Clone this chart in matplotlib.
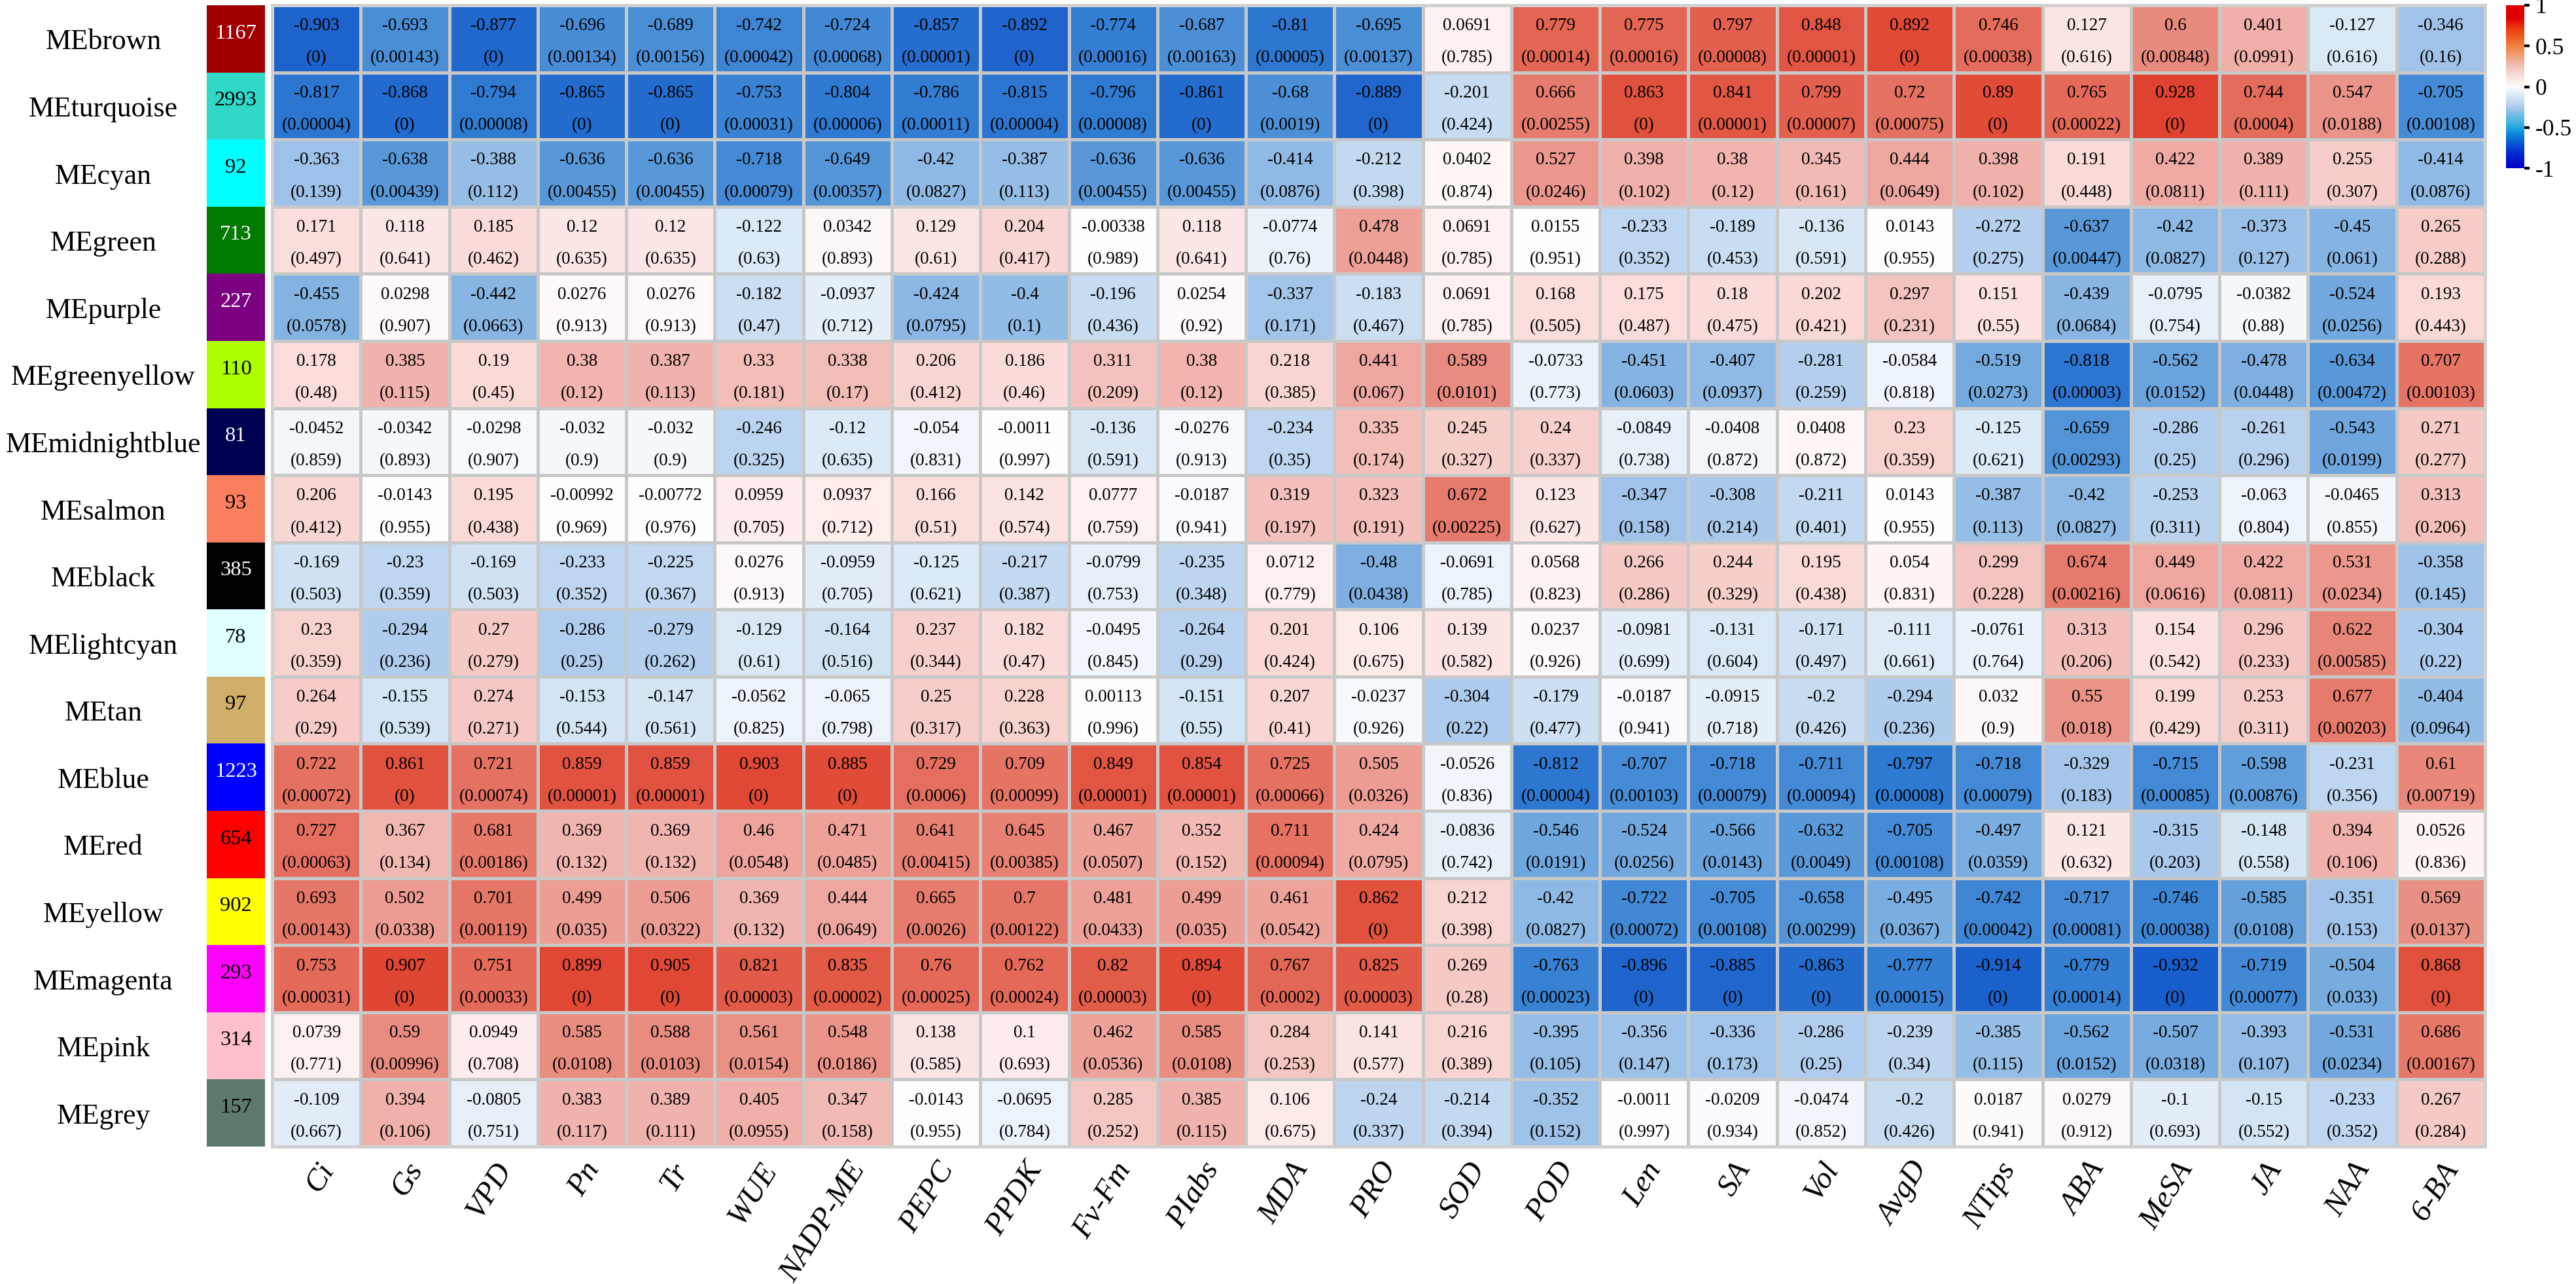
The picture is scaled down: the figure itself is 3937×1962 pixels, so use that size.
import numpy as np
import matplotlib
matplotlib.use('Agg')
import matplotlib.pyplot as plt
from matplotlib.colors import LinearSegmentedColormap, ListedColormap, Normalize
from matplotlib.cm import ScalarMappable

plt.rcParams['font.family'] = ['Liberation Serif', 'DejaVu Serif']

# module eigengenes, their colours and gene counts
modules = ['MEbrown', 'MEturquoise', 'MEcyan', 'MEgreen', 'MEpurple', 'MEgreenyellow',
           'MEmidnightblue', 'MEsalmon', 'MEblack', 'MElightcyan', 'MEtan', 'MEblue',
           'MEred', 'MEyellow', 'MEmagenta', 'MEpink', 'MEgrey']
module_colors = ['#A00000', '#30D8C8', '#00FFFF', '#007A00', '#7A0080', '#ADFF00',
                 '#000050', '#FA7F5F', '#000000', '#E0FFFF', '#CFAE6A', '#0000FF',
                 '#FF0000', '#FFFF00', '#FF00FF', '#FFC0CB', '#5E7A6C']
module_sizes = [1167, 2993, 92, 713, 227, 110, 81, 93, 385, 78, 97, 1223, 654, 902, 293, 314, 157]
size_text_colors = ['white', 'black', 'black', 'white', 'white', 'black', 'white', 'black',
                    'white', 'black', 'black', 'white', 'black', 'black', 'black', 'black', 'black']

traits = ['Ci', 'Gs', 'VPD', 'Pn', 'Tr', 'WUE', 'NADP-ME', 'PEPC', 'PPDK', 'Fv-Fm', 'PIabs',
          'MDA', 'PRO', 'SOD', 'POD', 'Len', 'SA', 'Vol', 'AvgD', 'NTips', 'ABA', 'MeSA',
          'JA', 'NAA', '6-BA']

# correlation (r) and p value per module
r_brown = [-0.903, -0.693, -0.877, -0.696, -0.689, -0.742, -0.724, -0.857, -0.892, -0.774, -0.687, -0.81, -0.695,
           0.0691, 0.779, 0.775, 0.797, 0.848, 0.892, 0.746, 0.127, 0.6, 0.401, -0.127, -0.346]
p_brown = [0, 0.00143, 0, 0.00134, 0.00156, 0.00042, 0.00068, 0.00001, 0, 0.00016, 0.00163, 0.00005, 0.00137,
           0.785, 0.00014, 0.00016, 0.00008, 0.00001, 0, 0.00038, 0.616, 0.00848, 0.0991, 0.616, 0.16]
r_turquoise = [-0.817, -0.868, -0.794, -0.865, -0.865, -0.753, -0.804, -0.786, -0.815, -0.796, -0.861, -0.68, -0.889,
               -0.201, 0.666, 0.863, 0.841, 0.799, 0.72, 0.89, 0.765, 0.928, 0.744, 0.547, -0.705]
p_turquoise = [0.00004, 0, 0.00008, 0, 0, 0.00031, 0.00006, 0.00011, 0.00004, 0.00008, 0, 0.0019, 0,
               0.424, 0.00255, 0, 0.00001, 0.00007, 0.00075, 0, 0.00022, 0, 0.0004, 0.0188, 0.00108]
r_cyan = [-0.363, -0.638, -0.388, -0.636, -0.636, -0.718, -0.649, -0.42, -0.387, -0.636, -0.636, -0.414, -0.212,
          0.0402, 0.527, 0.398, 0.38, 0.345, 0.444, 0.398, 0.191, 0.422, 0.389, 0.255, -0.414]
p_cyan = [0.139, 0.00439, 0.112, 0.00455, 0.00455, 0.00079, 0.00357, 0.0827, 0.113, 0.00455, 0.00455, 0.0876, 0.398,
          0.874, 0.0246, 0.102, 0.12, 0.161, 0.0649, 0.102, 0.448, 0.0811, 0.111, 0.307, 0.0876]
r_green = [0.171, 0.118, 0.185, 0.12, 0.12, -0.122, 0.0342, 0.129, 0.204, -0.00338, 0.118, -0.0774, 0.478,
           0.0691, 0.0155, -0.233, -0.189, -0.136, 0.0143, -0.272, -0.637, -0.42, -0.373, -0.45, 0.265]
p_green = [0.497, 0.641, 0.462, 0.635, 0.635, 0.63, 0.893, 0.61, 0.417, 0.989, 0.641, 0.76, 0.0448,
           0.785, 0.951, 0.352, 0.453, 0.591, 0.955, 0.275, 0.00447, 0.0827, 0.127, 0.061, 0.288]
r_purple = [-0.455, 0.0298, -0.442, 0.0276, 0.0276, -0.182, -0.0937, -0.424, -0.4, -0.196, 0.0254, -0.337, -0.183,
            0.0691, 0.168, 0.175, 0.18, 0.202, 0.297, 0.151, -0.439, -0.0795, -0.0382, -0.524, 0.193]
p_purple = [0.0578, 0.907, 0.0663, 0.913, 0.913, 0.47, 0.712, 0.0795, 0.1, 0.436, 0.92, 0.171, 0.467,
            0.785, 0.505, 0.487, 0.475, 0.421, 0.231, 0.55, 0.0684, 0.754, 0.88, 0.0256, 0.443]
r_greenyellow = [0.178, 0.385, 0.19, 0.38, 0.387, 0.33, 0.338, 0.206, 0.186, 0.311, 0.38, 0.218, 0.441,
                 0.589, -0.0733, -0.451, -0.407, -0.281, -0.0584, -0.519, -0.818, -0.562, -0.478, -0.634, 0.707]
p_greenyellow = [0.48, 0.115, 0.45, 0.12, 0.113, 0.181, 0.17, 0.412, 0.46, 0.209, 0.12, 0.385, 0.067,
                 0.0101, 0.773, 0.0603, 0.0937, 0.259, 0.818, 0.0273, 0.00003, 0.0152, 0.0448, 0.00472, 0.00103]
r_midnightblue = [-0.0452, -0.0342, -0.0298, -0.032, -0.032, -0.246, -0.12, -0.054, -0.0011, -0.136, -0.0276, -0.234, 0.335,
                  0.245, 0.24, -0.0849, -0.0408, 0.0408, 0.23, -0.125, -0.659, -0.286, -0.261, -0.543, 0.271]
p_midnightblue = [0.859, 0.893, 0.907, 0.9, 0.9, 0.325, 0.635, 0.831, 0.997, 0.591, 0.913, 0.35, 0.174,
                  0.327, 0.337, 0.738, 0.872, 0.872, 0.359, 0.621, 0.00293, 0.25, 0.296, 0.0199, 0.277]
r_salmon = [0.206, -0.0143, 0.195, -0.00992, -0.00772, 0.0959, 0.0937, 0.166, 0.142, 0.0777, -0.0187, 0.319, 0.323,
            0.672, 0.123, -0.347, -0.308, -0.211, 0.0143, -0.387, -0.42, -0.253, -0.063, -0.0465, 0.313]
p_salmon = [0.412, 0.955, 0.438, 0.969, 0.976, 0.705, 0.712, 0.51, 0.574, 0.759, 0.941, 0.197, 0.191,
            0.00225, 0.627, 0.158, 0.214, 0.401, 0.955, 0.113, 0.0827, 0.311, 0.804, 0.855, 0.206]
r_black = [-0.169, -0.23, -0.169, -0.233, -0.225, 0.0276, -0.0959, -0.125, -0.217, -0.0799, -0.235, 0.0712, -0.48,
           -0.0691, 0.0568, 0.266, 0.244, 0.195, 0.054, 0.299, 0.674, 0.449, 0.422, 0.531, -0.358]
p_black = [0.503, 0.359, 0.503, 0.352, 0.367, 0.913, 0.705, 0.621, 0.387, 0.753, 0.348, 0.779, 0.0438,
           0.785, 0.823, 0.286, 0.329, 0.438, 0.831, 0.228, 0.00216, 0.0616, 0.0811, 0.0234, 0.145]
r_lightcyan = [0.23, -0.294, 0.27, -0.286, -0.279, -0.129, -0.164, 0.237, 0.182, -0.0495, -0.264, 0.201, 0.106,
               0.139, 0.0237, -0.0981, -0.131, -0.171, -0.111, -0.0761, 0.313, 0.154, 0.296, 0.622, -0.304]
p_lightcyan = [0.359, 0.236, 0.279, 0.25, 0.262, 0.61, 0.516, 0.344, 0.47, 0.845, 0.29, 0.424, 0.675,
               0.582, 0.926, 0.699, 0.604, 0.497, 0.661, 0.764, 0.206, 0.542, 0.233, 0.00585, 0.22]
r_tan = [0.264, -0.155, 0.274, -0.153, -0.147, -0.0562, -0.065, 0.25, 0.228, 0.00113, -0.151, 0.207, -0.0237,
         -0.304, -0.179, -0.0187, -0.0915, -0.2, -0.294, 0.032, 0.55, 0.199, 0.253, 0.677, -0.404]
p_tan = [0.29, 0.539, 0.271, 0.544, 0.561, 0.825, 0.798, 0.317, 0.363, 0.996, 0.55, 0.41, 0.926,
         0.22, 0.477, 0.941, 0.718, 0.426, 0.236, 0.9, 0.018, 0.429, 0.311, 0.00203, 0.0964]
r_blue = [0.722, 0.861, 0.721, 0.859, 0.859, 0.903, 0.885, 0.729, 0.709, 0.849, 0.854, 0.725, 0.505,
          -0.0526, -0.812, -0.707, -0.718, -0.711, -0.797, -0.718, -0.329, -0.715, -0.598, -0.231, 0.61]
p_blue = [0.00072, 0, 0.00074, 0.00001, 0.00001, 0, 0, 0.0006, 0.00099, 0.00001, 0.00001, 0.00066, 0.0326,
          0.836, 0.00004, 0.00103, 0.00079, 0.00094, 0.00008, 0.00079, 0.183, 0.00085, 0.00876, 0.356, 0.00719]
r_red = [0.727, 0.367, 0.681, 0.369, 0.369, 0.46, 0.471, 0.641, 0.645, 0.467, 0.352, 0.711, 0.424,
         -0.0836, -0.546, -0.524, -0.566, -0.632, -0.705, -0.497, 0.121, -0.315, -0.148, 0.394, 0.0526]
p_red = [0.00063, 0.134, 0.00186, 0.132, 0.132, 0.0548, 0.0485, 0.00415, 0.00385, 0.0507, 0.152, 0.00094, 0.0795,
         0.742, 0.0191, 0.0256, 0.0143, 0.0049, 0.00108, 0.0359, 0.632, 0.203, 0.558, 0.106, 0.836]
r_yellow = [0.693, 0.502, 0.701, 0.499, 0.506, 0.369, 0.444, 0.665, 0.7, 0.481, 0.499, 0.461, 0.862,
            0.212, -0.42, -0.722, -0.705, -0.658, -0.495, -0.742, -0.717, -0.746, -0.585, -0.351, 0.569]
p_yellow = [0.00143, 0.0338, 0.00119, 0.035, 0.0322, 0.132, 0.0649, 0.0026, 0.00122, 0.0433, 0.035, 0.0542, 0,
            0.398, 0.0827, 0.00072, 0.00108, 0.00299, 0.0367, 0.00042, 0.00081, 0.00038, 0.0108, 0.153, 0.0137]
r_magenta = [0.753, 0.907, 0.751, 0.899, 0.905, 0.821, 0.835, 0.76, 0.762, 0.82, 0.894, 0.767, 0.825,
             0.269, -0.763, -0.896, -0.885, -0.863, -0.777, -0.914, -0.779, -0.932, -0.719, -0.504, 0.868]
p_magenta = [0.00031, 0, 0.00033, 0, 0, 0.00003, 0.00002, 0.00025, 0.00024, 0.00003, 0, 0.0002, 0.00003,
             0.28, 0.00023, 0, 0, 0, 0.00015, 0, 0.00014, 0, 0.00077, 0.033, 0]
r_pink = [0.0739, 0.59, 0.0949, 0.585, 0.588, 0.561, 0.548, 0.138, 0.1, 0.462, 0.585, 0.284, 0.141,
          0.216, -0.395, -0.356, -0.336, -0.286, -0.239, -0.385, -0.562, -0.507, -0.393, -0.531, 0.686]
p_pink = [0.771, 0.00996, 0.708, 0.0108, 0.0103, 0.0154, 0.0186, 0.585, 0.693, 0.0536, 0.0108, 0.253, 0.577,
          0.389, 0.105, 0.147, 0.173, 0.25, 0.34, 0.115, 0.0152, 0.0318, 0.107, 0.0234, 0.00167]
r_grey = [-0.109, 0.394, -0.0805, 0.383, 0.389, 0.405, 0.347, -0.0143, -0.0695, 0.285, 0.385, 0.106, -0.24,
          -0.214, -0.352, -0.0011, -0.0209, -0.0474, -0.2, 0.0187, 0.0279, -0.1, -0.15, -0.233, 0.267]
p_grey = [0.667, 0.106, 0.751, 0.117, 0.111, 0.0955, 0.158, 0.955, 0.784, 0.252, 0.115, 0.675, 0.337,
          0.394, 0.152, 0.997, 0.934, 0.852, 0.426, 0.941, 0.912, 0.693, 0.552, 0.352, 0.284]

corr = np.array([r_brown, r_turquoise, r_cyan, r_green, r_purple, r_greenyellow, r_midnightblue,
                 r_salmon, r_black, r_lightcyan, r_tan, r_blue, r_red, r_yellow, r_magenta, r_pink, r_grey])
pval = np.array([p_brown, p_turquoise, p_cyan, p_green, p_purple, p_greenyellow, p_midnightblue,
                 p_salmon, p_black, p_lightcyan, p_tan, p_blue, p_red, p_yellow, p_magenta, p_pink, p_grey])

# colour map used for the cells (softer) and for the colour bar
cell_cmap = LinearSegmentedColormap.from_list('cells', [
    (0.0, '#0A50C8'), (0.05, '#1E64CC'), (0.1, '#2F7AD2'), (0.175, '#5596D8'),
    (0.275, '#86B4E2'), (0.35, '#AECBEC'), (0.425, '#D4E4F4'), (0.5, '#FFFFFF'),
    (0.575, '#FBE2E0'), (0.65, '#F4C4C0'), (0.725, '#EEA69E'), (0.8, '#E88A7E'),
    (0.875, '#E46C5C'), (0.95, '#E04A36'), (1.0, '#DC3020')])
bar_cmap = LinearSegmentedColormap.from_list('bar', [
    (0.0, '#0000C8'), (0.1, '#0030D0'), (0.2, '#0A80D8'), (0.25, '#20A8E0'),
    (0.37, '#A8C8E8'), (0.5, '#FFFFFF'), (0.63, '#F0C0B8'), (0.75, '#F08040'),
    (0.85, '#F04010'), (0.92, '#E00000'), (1.0, '#E00000')])

W, H = 3937, 1962
fig = plt.figure(figsize=(W / 300, H / 300), dpi=300)

def frac(x0, y0, x1, y1):
    return [x0 / W, 1 - y1 / H, (x1 - x0) / W, (y1 - y0) / H]

nrow, ncol = corr.shape

# heatmap
ax = fig.add_axes(frac(416, 8, 3798, 1752))
ax.pcolormesh(np.arange(ncol + 1), np.arange(nrow + 1), corr, cmap=cell_cmap, vmin=-1, vmax=1,
              edgecolors='#C8C8C8', linewidth=1.1)
ax.set_xlim(0, ncol)
ax.set_ylim(nrow, 0)
for i in range(nrow):
    for j in range(ncol):
        ax.text(j + 0.5, i + 0.31, f'{corr[i, j]:g}', ha='center', va='center', fontsize=6.5)
        ptxt = f'{pval[i, j]:.5f}'.rstrip('0').rstrip('.')
        ax.text(j + 0.5, i + 0.79, f'({ptxt})', ha='center', va='center', fontsize=6.5)
ax.set_xticks(np.arange(ncol) + 0.5)
ax.set_xticklabels(traits, rotation=58, ha='right', va='top', rotation_mode='anchor',
                   fontsize=11.3, style='italic')
ax.set_yticks([])
ax.tick_params(axis='x', length=0, pad=4)
for s in ax.spines.values():
    s.set_color('#D0D0D0')
    s.set_linewidth(1.2)

# module colour column
axc = fig.add_axes(frac(316, 8, 405, 1752))
axc.pcolormesh(np.arange(2), np.arange(nrow + 1), np.arange(nrow).reshape(-1, 1),
               cmap=ListedColormap(module_colors), vmin=-0.5, vmax=nrow - 0.5)
axc.set_xlim(0, 1)
axc.set_ylim(nrow, 0)
axc.axis('off')
for i in range(nrow):
    axc.text(0.5, i + 0.42, str(module_sizes[i]), ha='center', va='center',
             fontsize=7.8, color=size_text_colors[i])
    fig.text(158 / W, 1 - (8 + (i + 0.55) * (1744 / nrow)) / H, modules[i],
             ha='center', va='center', fontsize=10.5)

# colour bar
axb = fig.add_axes(frac(3830, 8, 3858, 257))
cb = fig.colorbar(ScalarMappable(norm=Normalize(-1, 1), cmap=bar_cmap), cax=axb)
cb.outline.set_visible(False)
cb.set_ticks([1, 0.5, 0, -0.5, -1])
cb.set_ticklabels(['1', '0.5', '0', '-0.5', '-1'])
axb.tick_params(labelsize=8.5, length=2, width=1, pad=2)

fig.savefig('out.png', dpi=300)
